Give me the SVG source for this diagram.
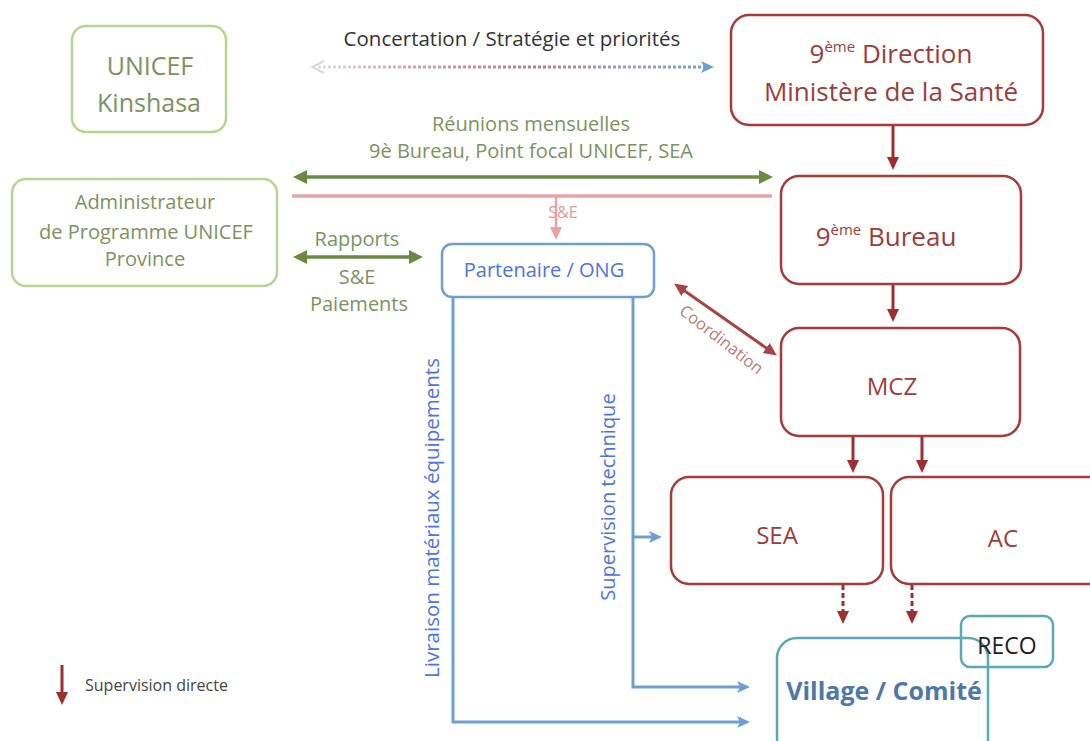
<svg xmlns="http://www.w3.org/2000/svg" width="1090" height="741" viewBox="0 0 1090 741">
<defs>
<style>
text{font-family:"Open Sans","Liberation Sans",sans-serif;}
.gbox{fill:#fff;stroke:#b9d48f;stroke-width:2.5;}
.rbox{fill:#fff;stroke:#a83a3a;stroke-width:2.5;}
.gt{fill:#7d9262;}
.rt{fill:#9c3d3d;}
.bt{fill:#4f73e0;}
.red{stroke:#9e2f2f;stroke-width:3;fill:none;}
.blue{stroke:#6f9fd2;stroke-width:3;fill:none;}
.green{stroke:#6a8a43;stroke-width:3.5;fill:none;}
</style>
<marker id="ar" markerWidth="14" markerHeight="14" refX="7" refY="7" orient="auto" markerUnits="userSpaceOnUse"><path d="M0,1 L13,7 L0,13 z" fill="#9e2f2f"/></marker>
<marker id="ab" markerWidth="14" markerHeight="14" refX="7" refY="7" orient="auto" markerUnits="userSpaceOnUse"><path d="M0,1 L13,7 L0,13 L3,7 z" fill="#6f9fd2"/></marker>
<marker id="ag" markerWidth="14" markerHeight="14" refX="7" refY="7" orient="auto-start-reverse" markerUnits="userSpaceOnUse"><path d="M0,0 L14,7 L0,14 z" fill="#6a8a43"/></marker>
<marker id="ap" markerWidth="14" markerHeight="14" refX="7" refY="7" orient="auto" markerUnits="userSpaceOnUse"><path d="M0,1 L13,7 L0,13 z" fill="#e8a4a4"/></marker>
<marker id="ac" markerWidth="14" markerHeight="14" refX="7" refY="7" orient="auto-start-reverse" markerUnits="userSpaceOnUse"><path d="M0,1 L13,7 L0,13 z" fill="#a84444"/></marker>
<marker id="acb" markerWidth="14" markerHeight="14" refX="7" refY="7" orient="auto" markerUnits="userSpaceOnUse"><path d="M0,1 L13,7 L0,13 L3,7 z" fill="#6f9fd2"/></marker>
<marker id="acg" markerWidth="14" markerHeight="14" refX="7" refY="7" orient="auto-start-reverse" markerUnits="userSpaceOnUse"><path d="M1,1 L13,7 L1,13" fill="none" stroke="#d8d8d8" stroke-width="2"/></marker>
<linearGradient id="dg" x1="310" y1="0" x2="716" y2="0" gradientUnits="userSpaceOnUse">
<stop offset="0" stop-color="#e2e2e2"/>
<stop offset="0.25" stop-color="#d9a0a8"/>
<stop offset="0.55" stop-color="#c07a88"/>
<stop offset="0.8" stop-color="#a0a0c8"/>
<stop offset="1" stop-color="#6f9fd2"/>
</linearGradient>
</defs>

<g id="connectors">
<line x1="318" y1="67" x2="708" y2="67" stroke="url(#dg)" stroke-width="3" stroke-dasharray="3 2" marker-start="url(#acg)" marker-end="url(#acb)"/>
<line x1="893" y1="126" x2="893" y2="164" class="red" marker-end="url(#ar)"/>
<line x1="893" y1="285" x2="893" y2="316" class="red" marker-end="url(#ar)"/>
<line x1="853" y1="437" x2="853" y2="467" class="red" marker-end="url(#ar)"/>
<line x1="922" y1="437" x2="922" y2="467" class="red" marker-end="url(#ar)"/>
<line x1="843" y1="585" x2="843" y2="618" class="red" stroke-dasharray="5 3" marker-end="url(#ar)"/>
<line x1="912" y1="585" x2="912" y2="618" class="red" stroke-dasharray="5 3" marker-end="url(#ar)"/>
<line x1="300" y1="177" x2="766" y2="177" class="green" marker-start="url(#ag)" marker-end="url(#ag)"/>
<line x1="292" y1="196" x2="772" y2="196" stroke="#e8a4a4" stroke-width="3.5"/>
<line x1="556" y1="196" x2="556" y2="234" stroke="#e8a4a4" stroke-width="2.5" marker-end="url(#ap)"/>
<line x1="300" y1="257" x2="416" y2="257" class="green" marker-start="url(#ag)" marker-end="url(#ag)"/>
<line x1="679" y1="287" x2="772" y2="352" stroke="#a84444" stroke-width="3" marker-start="url(#ac)" marker-end="url(#ac)"/>
<polyline points="453,298 453,722 744,722" class="blue" marker-end="url(#ab)"/>
<polyline points="633,298 633,687 744,687" class="blue" marker-end="url(#ab)"/>
<line x1="633" y1="537" x2="656" y2="537" class="blue" marker-end="url(#ab)"/>
<line x1="62" y1="665" x2="62" y2="699" class="red" marker-end="url(#ar)"/>
</g>

<g id="labels">
<text x="512" y="46" font-size="20.5" fill="#333" text-anchor="middle">Concertation / Stratégie et priorités</text>
<text x="531" y="131" font-size="20" class="gt" text-anchor="middle">Réunions mensuelles</text>
<text x="531" y="158" font-size="20" class="gt" text-anchor="middle">9è Bureau, Point focal UNICEF, SEA</text>
<text x="563" y="218" font-size="16" fill="#e39a9a" text-anchor="middle">S&amp;E</text>
<text x="357" y="246" font-size="20" class="gt" text-anchor="middle">Rapports</text>
<text x="357" y="284" font-size="20" class="gt" text-anchor="middle">S&amp;E</text>
<text x="359" y="311" font-size="20" class="gt" text-anchor="middle">Paiements</text>
<text transform="translate(718,344) rotate(38)" font-size="16.5" fill="#c07a7a" text-anchor="middle">Coordination</text>
<text transform="translate(439,518) rotate(-90)" font-size="20.5" class="bt" text-anchor="middle">Livraison matériaux  équipements</text>
<text transform="translate(615,497) rotate(-90)" font-size="20" class="bt" text-anchor="middle">Supervision technique</text>
<text x="85" y="691" font-size="16" fill="#444">Supervision directe</text>
</g>

<g id="unicef-kinshasa">
<rect x="72" y="26" width="154" height="106" rx="14" class="gbox"/>
<text x="150" y="75" font-size="25" class="gt" text-anchor="middle">UNICEF</text>
<text x="149" y="112" font-size="25" class="gt" text-anchor="middle">Kinshasa</text>
</g>

<g id="administrateur">
<rect x="12" y="179" width="265" height="107" rx="14" class="gbox"/>
<text x="145" y="209" font-size="20" class="gt" text-anchor="middle">Administrateur</text>
<text x="146" y="239" font-size="20" class="gt" text-anchor="middle">de Programme UNICEF</text>
<text x="145" y="266" font-size="20" class="gt" text-anchor="middle">Province</text>
</g>

<g id="direction">
<rect x="731" y="15" width="312" height="110" rx="18" class="rbox"/>
<text x="891" y="63" font-size="26" class="rt" text-anchor="middle">9<tspan font-size="15" dy="-11">ème</tspan><tspan dy="11"> Direction</tspan></text>
<text x="891" y="101" font-size="26" class="rt" text-anchor="middle">Ministère de la Santé</text>
</g>

<g id="bureau">
<rect x="781" y="176" width="240" height="108" rx="18" class="rbox"/>
<text x="886" y="246" font-size="26" class="rt" text-anchor="middle">9<tspan font-size="15" dy="-11">ème</tspan><tspan dy="11"> Bureau</tspan></text>
</g>

<g id="mcz">
<rect x="781" y="328" width="239" height="108" rx="18" class="rbox"/>
<text x="892" y="395" font-size="24" class="rt" text-anchor="middle">MCZ</text>
</g>

<g id="sea">
<rect x="671" y="477" width="212" height="107" rx="18" class="rbox"/>
<text x="777" y="544" font-size="24" class="rt" text-anchor="middle">SEA</text>
</g>

<g id="ac">
<rect x="891" y="477" width="215" height="107" rx="18" class="rbox"/>
<text x="1003" y="547" font-size="24" class="rt" text-anchor="middle">AC</text>
</g>

<g id="partenaire">
<rect x="442" y="244" width="212" height="53" rx="10" fill="#fff" stroke="#6f9fd2" stroke-width="2.5"/>
<text x="544" y="277" font-size="20" class="bt" text-anchor="middle">Partenaire / ONG</text>
</g>

<g id="village">
<rect x="777" y="638" width="211" height="120" rx="20" fill="none" stroke="#5aa8b8" stroke-width="2.5"/>
<text x="884" y="700" font-size="25" font-weight="bold" fill="#4f77a8" text-anchor="middle">Village / Comité</text>
</g>

<g id="reco">
<rect x="961" y="616" width="92" height="51" rx="9" fill="none" stroke="#5aa8b8" stroke-width="2.5"/>
<text x="1007" y="654" font-size="23" fill="#222" text-anchor="middle">RECO</text>
</g>
</svg>
